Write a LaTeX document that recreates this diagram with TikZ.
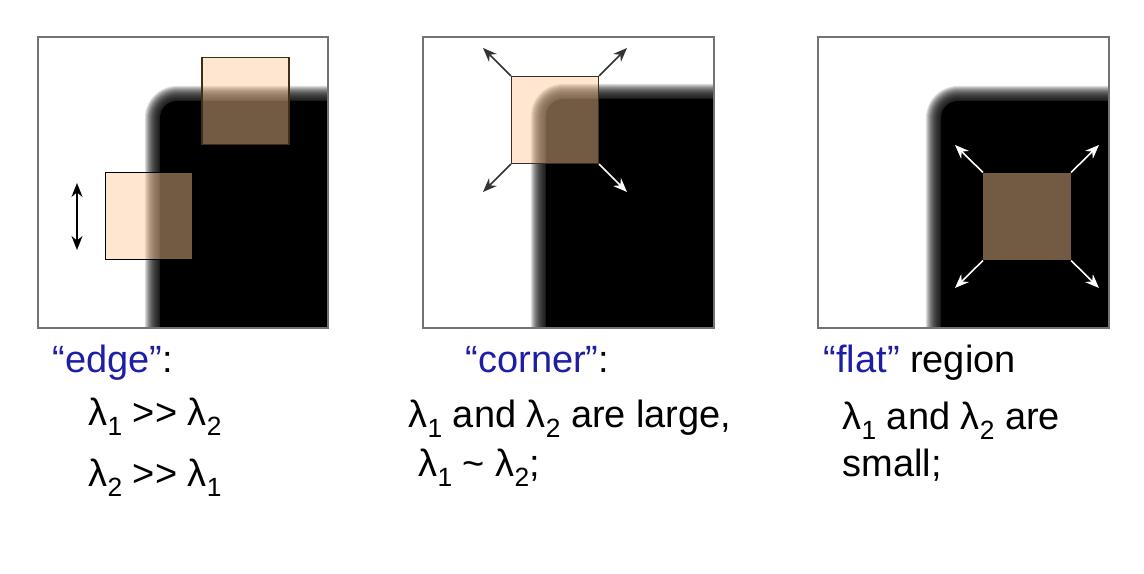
\documentclass[tikz,border=0pt]{standalone}
\usepackage{fontspec}
\setmainfont{Liberation Sans}
\usepackage{xcolor}
\usetikzlibrary{arrows.meta,positioning}

\definecolor{peach}{RGB}{255,200,150}
\definecolor{quoteblue}{RGB}{30,30,165}
\newcommand{\lam}[1]{λ\raisebox{-0.24em}{\fontsize{7.5}{8}\selectfont #1}}
% blurred dark region with rounded top-left corner at (#1,#2)
\newcommand{\darkcorner}[2]{%
  \fill[black, rounded corners=17*0.1mm] (#1+8,#2+8) rectangle (1200,400);
  \foreach \d in {0,...,14}
    \fill[black, opacity=0.13, rounded corners=(18+\d)*0.1mm] (#1+7-\d,#2+7-\d) rectangle (1200,400);
}

\begin{document}
\begin{tikzpicture}[
    x=0.01cm, y=-0.01cm,
    frame/.style={draw=black!55, line width=0.6pt},
    win/.style={rectangle, draw=brown!35!black, line width=0.3pt, fill=peach, fill opacity=0.45, draw opacity=1, minimum size=0.87cm, inner sep=0pt},
    ray/.style={-{Stealth[length=1.4mm,width=1.1mm]}, line width=0.45pt, draw=black!80},
    lightray/.style={ray, draw=white},
    label/.style={anchor=base west, inner sep=0pt, font=\fontsize{10.8}{12}\selectfont}
]
\useasboundingbox (0,0) rectangle (1144,574);

% Edge panel
\begin{scope}
  \clip (38,37) rectangle (328,328);
  \darkcorner{152}{93}
\end{scope}
\draw[frame] (38,37) rectangle (328,328);
\node[win] (top1) at (245.5,101) {};
\node[win, draw=black] (low1) at (149,216) {};
\coordinate (d1top) at (77,183);
\coordinate (d1bot) at (77,250);
\draw[ray, {Stealth[length=1.4mm,width=1.1mm]}-{Stealth[length=1.4mm,width=1.1mm]}, draw=black] (d1top) -- (d1bot);

% Corner panel
\begin{scope}
  \clip (423,37) rectangle (714,328);
  \darkcorner{538}{91}
\end{scope}
\draw[frame] (423,37) rectangle (714,328);
\node[win] (win2) at (555,120) {};
\coordinate (a2nw) at (483,48);
\coordinate (a2ne) at (627,48);
\coordinate (a2sw) at (483,192);
\coordinate (a2se) at (627,192);
\draw[ray] (win2.north west) -- (a2nw);
\draw[ray] (win2.north east) -- (a2ne);
\draw[ray] (win2.south west) -- (a2sw);
\draw[lightray] (win2.south east) -- (a2se);

% Flat panel
\begin{scope}
  \clip (818,37) rectangle (1109,328);
  \darkcorner{933}{93}
\end{scope}
\draw[frame] (818,37) rectangle (1109,328);
\node[win, draw=none] (win3) at (1027,216.5) {};
\coordinate (a3nw) at (955,145);
\coordinate (a3ne) at (1099,145);
\coordinate (a3sw) at (955,288);
\coordinate (a3se) at (1099,288);
\draw[lightray] (win3.north west) -- (a3nw);
\draw[lightray] (win3.north east) -- (a3ne);
\draw[lightray] (win3.south west) -- (a3sw);
\draw[lightray] (win3.south east) -- (a3se);

% Captions
\node[label] (edge) at (52,373) {\textcolor{quoteblue}{“edge”}:};
\node[label] (edge-a) at (88,426) {\lam{1} >\kern0pt> \lam{2}};
\node[label] (edge-b) at (88,487) {\lam{2} >\kern0pt> \lam{1}};

\node[label] (corner) at (465,373) {\textcolor{quoteblue}{“corner”}:};
\node[label] (corner-a) at (408,428) {\lam{1} and \lam{2} are large,};
\node[label] (corner-b) at (418,477) {\lam{1} \textasciitilde{} \lam{2};};

\node[label] (flat) at (823,373) {\textcolor{quoteblue}{“flat”} region};
\node[label] (flat-a) at (842,430) {\lam{1} and \lam{2} are};
\node[label] (flat-b) at (842,477) {small;};

\end{tikzpicture}
\end{document}
